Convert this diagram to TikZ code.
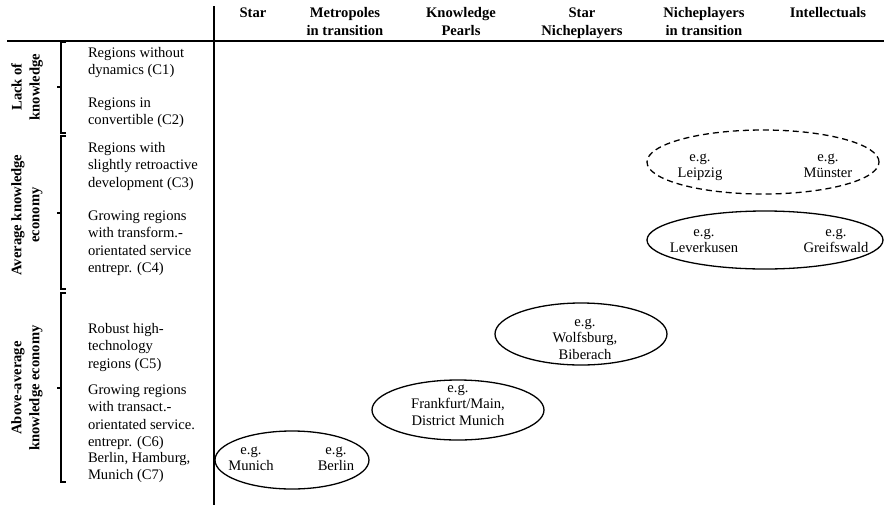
\documentclass[tikz,border=0pt]{standalone}
\usepackage{fontspec}
\setmainfont{Liberation Serif}
\usetikzlibrary{shapes.geometric}
\begin{document}
\begin{tikzpicture}[x=1pt,y=-1pt,
  every node/.style={inner sep=0pt, outer sep=0pt},
  hdr/.style={font=\fontsize{14.6}{18}\selectfont\bfseries, align=center, anchor=north},
  rowtxt/.style={font=\fontsize{14.6}{17.5}\selectfont, align=left, anchor=north west},
  grp/.style={font=\fontsize{14.6}{18}\selectfont\bfseries, align=center, rotate=90},
  etxt/.style={font=\fontsize{14.6}{16.5}\selectfont, align=center, anchor=north},
  ell/.style={draw, ellipse, line width=1.3pt},
  rule/.style={line width=1.8pt},
  brk/.style={line width=1.3pt}
]
\useasboundingbox (0,0) rectangle (884,507);

% rules
\coordinate (hl) at (7,41);
\coordinate (hr) at (884,41);
\coordinate (vt) at (214,6);
\coordinate (vb) at (214,505);
\draw[rule] (hl) -- (hr);
\draw[rule] (vt) -- (vb);

% headers
\node[hdr] (h1) at (253,4.4) {\strut Star};
\node[hdr] (h2) at (345,4.4) {\strut Metropoles\\in transition};
\node[hdr] (h3) at (461,4.4) {\strut Knowledge\\Pearls};
\node[hdr] (h4) at (582,4.4) {\strut Star\\Nicheplayers};
\node[hdr] (h5) at (704,4.4) {\strut Nicheplayers\\in transition};
\node[hdr] (h6) at (828,4.4) {\strut Intellectuals};

% brackets
\draw[brk] (66,42) -- (61,42) -- (61,133) -- (66,133);
\draw[brk] (61,87) -- (57,87);
\draw[brk] (66,136) -- (61,136) -- (61,289) -- (66,289);
\draw[brk] (61,213) -- (57,213);
\draw[brk] (66,293) -- (61,293) -- (61,482) -- (66,482);
\draw[brk] (61,388) -- (57,388);

% group labels
\node[grp] (g1) at (27,87) {Lack of\\knowledge};
\node[grp] (g2) at (27,215) {Average knowledge\\economy};
\node[grp] (g3) at (27,388) {Above-average\\knowledge economy};

% row texts
\node[rowtxt] (c1) at (88,44.75) {\strut Regions without\\dynamics (C1)};
\node[rowtxt] (c2) at (88,94.75) {\strut Regions in\\convertible (C2)};
\node[rowtxt] (c3) at (88,139.75) {\strut Regions with\\slightly retroactive\\development (C3)};
\node[rowtxt] (c4) at (88,207.75) {\strut Growing regions\\with transform.-\\orientated service\\entrepr. (C4)};
\node[rowtxt] (c5) at (88,320.75) {\strut Robust high-\\technology\\regions (C5)};
\node[rowtxt] (c6) at (88,381.75) {\strut Growing regions\\with transact.-\\orientated service.\\entrepr. (C6)};
\node[rowtxt] (c7) at (88,449.75) {\strut Berlin, Hamburg,\\Munich (C7)};

% ellipses
\node[ell, dashed, dash pattern=on 6pt off 4pt, minimum width=232pt, minimum height=64pt] (e1) at (763,162) {};
\node[etxt] (t1a) at (700,149.45) {\strut e.g.\\Leipzig};
\node[etxt] (t1b) at (828,149.45) {\strut e.g.\\Münster};

\node[ell, minimum width=236pt, minimum height=58pt] (e2) at (765,240) {};
\node[etxt] (t2a) at (704,224.45) {\strut e.g.\\Leverkusen};
\node[etxt] (t2b) at (836,224.45) {\strut e.g.\\Greifswald};

\node[ell, minimum width=172pt, minimum height=62pt] (e3) at (581,334) {};
\node[etxt] (t3) at (585,314.45) {\strut e.g.\\Wolfsburg,\\Biberach};

\node[ell, minimum width=172pt, minimum height=60pt] (e4) at (458,410) {};
\node[etxt] (t4) at (458,380.45) {\strut e.g.\\Frankfurt/Main,\\District Munich};

\node[ell, minimum width=154pt, minimum height=58pt] (e5) at (292,460) {};
\node[etxt] (t5a) at (251,442.45) {\strut e.g.\\Munich};
\node[etxt] (t5b) at (336,442.45) {\strut e.g.\\Berlin};

\end{tikzpicture}
\end{document}
